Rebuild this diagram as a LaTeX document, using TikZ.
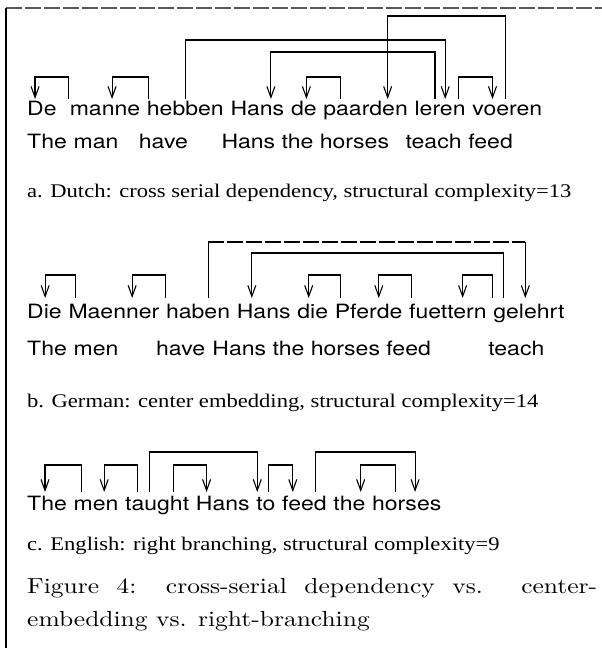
\documentclass[tikz,border=0pt]{standalone}
\usepackage{fontspec}
\usetikzlibrary{arrows.meta,calc}
\newfontfamily\sansf[FakeStretch=1.168]{TeX Gyre Heros}
\newfontfamily\serf[FakeStretch=1.17]{Liberation Serif}
\newfontfamily\capf[FakeStretch=1.17]{lmroman10-regular.otf}
\newcommand\deparc[4]{\draw[dep] (#1 |- #4) -- (#1 |- #3) -- (#2 |- #3) -- (#2 |- #4);}
\newcommand\fr[3]{\coordinate (#3) at ($(#1.base west)!#2!(#1.base east)$);}
\tikzset{
  w/.style={font=\sansf\fontsize{19.7}{20}\selectfont, inner sep=0pt, anchor=base west},
  capt/.style={font=\serf\fontsize{19.3}{20}\selectfont, inner sep=0pt, anchor=base west},
  figc/.style={font=\capf\fontsize{21.8}{22}\selectfont, inner sep=0pt, anchor=base west},
  dep/.style={line width=1.1pt, -{Straight Barb[length=11pt,width=8pt,line width=1.1pt]}},
  ln/.style={line width=1.1pt},
  frame/.style={line width=1.1pt},
}
\begin{document}
\begin{tikzpicture}[x=1pt,y=-1pt]
\useasboundingbox (0,0) rectangle (602,648);
% frame
\coordinate (TL) at (6,8); \coordinate (TR) at (602,8); \coordinate (BL) at (6,648);
\draw[frame, gray!70!black, dash pattern=on 16pt off 3pt] (TL) -- (TR);
\draw[frame] (TL) -- (BL);
% ---------------- a
\coordinate (Ab) at (0,99); \coordinate (A1) at (0,16); \coordinate (A2) at (0,40);
\coordinate (A3) at (0,52); \coordinate (A4) at (0,77);
\node[w] (a1) at (27,115) {De};
\node[w] (a2) at ([xshift=12.8pt]a1.base east) {manne};
\node[w] (a3) at ([xshift=6.4pt]a2.base east) {hebben};
\node[w] (a4) at ([xshift=6.4pt]a3.base east) {Hans};
\node[w] (a5) at ([xshift=6.4pt]a4.base east) {de};
\node[w] (a6) at ([xshift=6.4pt]a5.base east) {paarden};
\node[w] (a7) at ([xshift=6.4pt]a6.base east) {leren};
\node[w] (a8) at ([xshift=6.4pt]a7.base east) {voeren};
\node[w] (g1) at (a1.base west |- 0,148) {The};
\node[w] (g2) at ([xshift=6.4pt]g1.base east) {man};
\node[w] (g3) at ([xshift=-8pt]a3.base west |- 0,148) {have};
\node[w] (g4) at ([xshift=-9pt]a4.base west |- 0,148) {Hans the horses};
\node[w] (g5) at ([xshift=-9pt]a7.base west |- 0,148) {teach};
\node[w] (g6) at ([xshift=6.4pt]g5.base east) {feed};
\node[capt] (ca) at (27,197) {a. Dutch: cross serial dependency, structural complexity=13};
\fr{a1}{0.27}{pa1} \fr{a2}{-0.01}{qa1}
\fr{a2}{0.6}{pa2} \fr{a2}{1.12}{qa2}
\fr{a5}{0.6}{pa5} \fr{a6}{0.2}{qa5}
\fr{a3}{0.5}{sHeb} \fr{a7}{0.6}{tHeb}
\fr{a7}{0.4}{sLer} \fr{a4}{0.75}{tLer}
\fr{a8}{0.48}{sVoe} \fr{a6}{0.76}{tVoe}
\fr{a7}{0.86}{sLv} \fr{a8}{0.29}{tLv}
\deparc{qa1}{pa1}{A4}{Ab}
\deparc{qa2}{pa2}{A4}{Ab}
\deparc{qa5}{pa5}{A4}{Ab}
\deparc{sHeb}{tHeb}{A2}{Ab}
\deparc{sLer}{tLer}{A3}{Ab}
\deparc{sVoe}{tVoe}{A1}{Ab}
\deparc{sLv}{tLv}{A4}{Ab}
% ---------------- b
\coordinate (Bb) at (0,298); \coordinate (B1) at (0,242); \coordinate (B2) at (0,253);
\coordinate (B4) at (0,275);
\node[w] (b1) at (27,318) {Die};
\node[w] (b2) at ([xshift=6.4pt]b1.base east) {Maenner};
\node[w] (b3) at ([xshift=6.4pt]b2.base east) {haben};
\node[w] (b4) at ([xshift=6.4pt]b3.base east) {Hans};
\node[w] (b5) at ([xshift=6.4pt]b4.base east) {die};
\node[w] (b6) at ([xshift=6.4pt]b5.base east) {Pferde};
\node[w] (b7) at ([xshift=6.4pt]b6.base east) {fuettern};
\node[w] (b8) at ([xshift=6.4pt]b7.base east) {gelehrt};
\node[w] (h1) at (b1.base west |- 0,355) {The};
\node[w] (h2) at ([xshift=6.4pt]h1.base east) {men};
\node[w] (h3) at ([xshift=-10pt]b3.base west |- 0,355) {have};
\node[w] (h4) at ([xshift=7pt]h3.base east) {Hans the horses feed};
\node[w] (h5) at ([xshift=-5pt]b8.base west |- 0,355) {teach};
\node[capt] (cb) at (27,407) {b. German: center embedding, structural complexity=14};
\fr{b1}{0.52}{pb1} \fr{b2}{0.08}{qb1}
\fr{b2}{0.7}{pb2} \fr{b3}{0.0}{qb2}
\fr{b5}{0.37}{pb5} \fr{b6}{0.08}{qb5}
\fr{b6}{0.65}{pb6} \fr{b7}{0.03}{qb6}
\fr{b7}{0.69}{pb7} \fr{b8}{-0.01}{qb7}
\fr{b3}{0.66}{sHab} \fr{b8}{0.45}{tHab}
\fr{b8}{0.14}{sGel} \fr{b4}{0.28}{tGel}
\deparc{qb1}{pb1}{B4}{Bb}
\deparc{qb2}{pb2}{B4}{Bb}
\deparc{qb5}{pb5}{B4}{Bb}
\deparc{qb6}{pb6}{B4}{Bb}
\deparc{qb7}{pb7}{B4}{Bb}
\draw[ln] (sHab |- Bb) -- (sHab |- B1);
\draw[ln, dash pattern=on 16pt off 3pt] (sHab |- B1) -- (tHab |- B1);
\draw[dep] (tHab |- B1) -- (tHab |- Bb);
\deparc{sGel}{tGel}{B2}{Bb}
% ---------------- c
\coordinate (Cb) at (0,492); \coordinate (C1) at (0,452); \coordinate (C4) at (0,465);
\node[w] (c1) at (27,510) {The};
\node[w] (c2) at ([xshift=6.4pt]c1.base east) {men};
\node[w] (c3) at ([xshift=6.4pt]c2.base east) {taught};
\node[w] (c4) at ([xshift=6.4pt]c3.base east) {Hans};
\node[w] (c5) at ([xshift=6.4pt]c4.base east) {to};
\node[w] (c6) at ([xshift=6.4pt]c5.base east) {feed};
\node[w] (c7) at ([xshift=6.4pt]c6.base east) {the};
\node[w] (c8) at ([xshift=6.4pt]c7.base east) {horses};
\node[capt] (cc) at (27,550) {c. English: right branching, structural complexity=9};
\fr{c1}{0.45}{pc1} \fr{c2}{0.17}{qc1}
\fr{c2}{0.68}{pc2} \fr{c3}{0.2}{qc2}
\fr{c3}{0.38}{sTa} \fr{c5}{0.05}{tTa}
\fr{c3}{0.75}{sTh} \fr{c4}{0.2}{tTh}
\fr{c5}{0.65}{sTo} \fr{c6}{0.24}{tTo}
\fr{c6}{0.75}{sFe} \fr{c8}{0.62}{tFe}
\fr{c8}{0.34}{sHo} \fr{c7}{0.85}{tHo}
\deparc{qc1}{pc1}{C4}{Cb}
\deparc{qc2}{pc2}{C4}{Cb}
\deparc{sTa}{tTa}{C1}{Cb}
\deparc{sTh}{tTh}{C4}{Cb}
\deparc{sTo}{tTo}{C4}{Cb}
\deparc{sFe}{tFe}{C1}{Cb}
\deparc{sHo}{tHo}{C4}{Cb}
% ---------------- figure caption
\node[figc] (f1) at (27,593) {\makebox[570pt][s]{Figure 4: cross-serial dependency vs. center-}};
\node[figc] (f2) at (27,626) {embedding vs. right-branching};
\end{tikzpicture}
\end{document}
